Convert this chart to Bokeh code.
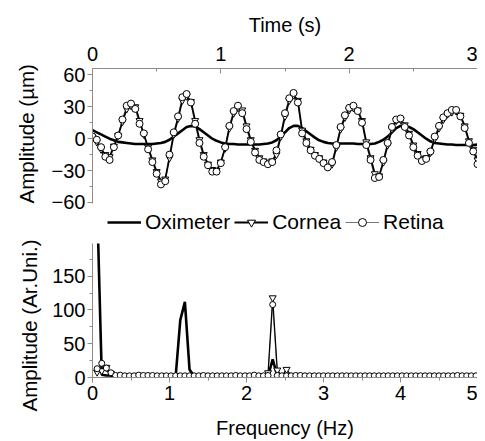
import numpy as np
from bokeh.plotting import figure
from bokeh.models import Range1d, Legend, LegendItem, FixedTicker, Title
from bokeh.layouts import column
from bokeh.embed import file_html
from bokeh.resources import INLINE

FONT = "Liberation Sans"
SAMPLE_RATE = 30.0   # Hz, time-series sampling
FREQ_STEP = 0.06     # Hz, spectrum bin width

# ---------------- time series (µm) ----------------
oximeter_time = [8, 6, 4, 2, 0, -1.5, -3, -3.5, -4, -4.5,
                 -5, -5, -5, -5, -5, -4.5, -4, -3, -1, 2,
                 5, 8, 11, 12, 11.5, 9, 6, 3, 0, -2,
                 -3.5, -4.5, -5, -5, -5.5, -5.5, -5.5, -5.5, -5.5, -5.5,
                 -5, -4.5, -3.5, -1.5, 2, 6, 10, 12, 12, 10,
                 7, 4, 1, -1.5, -3, -4, -4.5, -4.5, -4.5, -4.5,
                 -4.5, -4.5, -5, -5, -5, -5, -4.5, -3, -1, 2,
                 6, 10, 12, 12, 11, 9, 6, 3, 0, -2.5,
                 -4, -4.5, -5, -5.5, -5.5, -6, -6, -6, -6, -6,
                 -5.5]
cornea_time = [1, -3, -10, -15, -17, -7, 3, 16, 28, 31,
               30, 17, 4, -8, -20, -31, -40, -38, -18, 4,
               19, 36, 40, 35, 17, -1, -15, -24, -29, -30,
               -22, -9, 10, 24, 29, 27, 12, -1, -11, -18,
               -21, -23, -21, -15, 2, 21, 36, 41, 36, 8,
               -2, -10, -15, -18, -22, -26, -24, -8, 9, 20,
               27, 29, 27, 17, -3, -18, -33, -35, -22, -6,
               9, 17, 18, 13, 5, -6, -14, -19, -18, -13,
               0, 10, 18, 23, 25, 26, 22, 12, -2, -10,
               -20]
retina_time = [2, -1, -8, -17, -20, -8, 3, 18, 31, 33,
               28, 14, 5, -10, -22, -33, -43, -40, -15, 6,
               21, 39, 42, 34, 14, -4, -17, -25, -31, -31,
               -23, -8, 12, 26, 31, 24, 9, -3, -13, -20,
               -22, -24, -22, -11, 4, 24, 38, 43, 34, 5,
               -4, -11, -16, -19, -23, -27, -22, -6, 11, 22,
               29, 31, 26, 15, -6, -20, -37, -36, -20, -4,
               11, 18, 19, 11, 3, -8, -16, -21, -19, -12,
               2, 12, 20, 24, 27, 27, 21, 10, -4, -12,
               -24]

# ---------------- spectra (Ar.Uni.) ----------------
oximeter_spec = [260, 4, 3, 3, 2, 2, 2, 1.5, 1.5, 1.5,
                 1, 1, 1, 1, 1, 1, 1, 1.5, 85, 112,
                 12, 2, 1, 1, 1, 1, 1, 1, 1, 1,
                 1, 1, 1, 1, 1, 1, 1, 2, 27, 2,
                 1, 1, 1, 1, 1, 1, 1, 1, 1, 1,
                 1, 1, 1, 1, 1, 1, 1, 1, 1, 1,
                 1, 1, 1, 1, 1, 1, 1, 1, 1, 1,
                 1, 1, 1, 1, 1, 1, 1, 1, 1, 1,
                 1, 1, 1]
cornea_spec = [8, 10, 15, 6, 2, 3, 2, 1.5, 2, 2.5,
               2, 1.5, 2, 1.5, 1, 1.5, 1, 1, 1.5, 1,
               1.5, 1, 1.5, 2, 1.5, 1, 1, 1.5, 1, 1.5,
               2, 1.5, 1, 1.5, 2.5, 1.5, 2, 7, 118, 11,
               2, 12, 3, 1.5, 2, 1.5, 1, 1.5, 1, 1,
               1.5, 1, 1, 1.5, 1, 1, 1, 1.5, 1, 1,
               1, 1.5, 1, 1, 1, 1, 1.5, 1, 1, 1,
               1, 1, 1.5, 1, 1, 1, 1, 1.5, 1, 1,
               1, 1, 1]
retina_spec = [13, 21, 14, 7, 3, 3.5, 2.5, 2.5, 2.5, 3.5,
               3, 3, 3, 2.5, 2.5, 2.5, 2.5, 2.5, 2.5, 2.5,
               2.5, 2.5, 2.5, 3, 2.5, 2.5, 2.5, 2.5, 2.5, 2.5,
               3, 2.5, 2.5, 2.5, 3.5, 2.5, 2.5, 3, 108, 3,
               2.5, 2.5, 2.5, 3, 3, 2.5, 2.5, 2.5, 2.5, 2.5,
               2.5, 2.5, 2.5, 2.5, 2.5, 2.5, 2.5, 2.5, 2.5, 2.5,
               2.5, 2.5, 2.5, 2.5, 2.5, 2.5, 2.5, 2.5, 2.5, 2.5,
               2.5, 2.5, 2.5, 2.5, 2.5, 2.5, 2.5, 2.5, 3, 2.5,
               2.5, 2.5, 2.5]

series_names = ["Oximeter", "Cornea", "Retina"]
time_ticks = [0, 1, 2, 3]
time_minor = [0.5, 1.5, 2.5]
amp_ticks = [-60, -30, 0, 30, 60]
amp_minor = [-45, -15, 15, 45]
freq_ticks = [0, 1, 2, 3, 4, 5]
freq_minor = [0.5, 1.5, 2.5, 3.5, 4.5]
spec_ticks = [0, 50, 100, 150]
spec_minor = [25, 75, 125, 175]

t_oxi = np.arange(len(oximeter_time)) / SAMPLE_RATE
t_cor = np.arange(len(cornea_time)) / SAMPLE_RATE
t_ret = np.arange(len(retina_time)) / SAMPLE_RATE
f_oxi = (np.arange(len(oximeter_spec)) + 1) * FREQ_STEP
f_cor = (np.arange(len(cornea_spec)) + 1) * FREQ_STEP
f_ret = (np.arange(len(retina_spec)) + 1) * FREQ_STEP

AXIS_GRAY = "#8c8c8c"
RETINA_GRAY = "#777777"


def style_axis(ax, tick_in, tick_out, minor_in, minor_out):
    ax.axis_line_color = AXIS_GRAY
    ax.major_tick_line_color = AXIS_GRAY
    ax.minor_tick_line_color = AXIS_GRAY
    ax.major_tick_in = tick_in
    ax.major_tick_out = tick_out
    ax.minor_tick_in = minor_in
    ax.minor_tick_out = minor_out
    ax.major_label_text_font = FONT
    ax.major_label_text_font_size = "20px"
    ax.major_label_text_color = "black"
    ax.axis_label_text_font = FONT
    ax.axis_label_text_font_size = "20px"
    ax.axis_label_text_font_style = "normal"
    ax.axis_label_text_color = "black"


def side_title(text, offset, standoff):
    # align="left" on a left panel = text starts at the frame bottom, shifted by offset
    return Title(text=text, align="left", offset=offset, standoff=standoff,
                 text_font=FONT, text_font_size="20.5px", text_font_style="normal",
                 text_color="black")


# ---------------- top figure (frame extended downward to hold the legend) ----------------
p1 = figure(width=477, height=236, x_range=Range1d(0, 3), y_range=Range1d(-92, 66),
            x_axis_location="above", output_backend="svg", toolbar_location=None,
            min_border_left=92, min_border_right=0, min_border_top=68, min_border_bottom=0)
p1.outline_line_color = None
p1.xgrid.visible = False
p1.ygrid.visible = False

xa = p1.xaxis[0]
xa.ticker = FixedTicker(ticks=time_ticks, minor_ticks=time_minor)
xa.axis_label = "Time (s)"
style_axis(xa, 5, 0, 3, 0)
xa.major_label_standoff = 8
xa.axis_label_standoff = 8

ya = p1.yaxis[0]
ya.ticker = FixedTicker(ticks=amp_ticks, minor_ticks=amp_minor)
ya.bounds = (-60.5, 66)
style_axis(ya, 0, 5, 0, 3)
ya.major_label_standoff = 2
p1.add_layout(side_title("Amplitude (µm)", 33, 22), "left")

r_oxi = p1.line(t_oxi, oximeter_time, line_color="black", line_width=2.6)
r_ret_l = p1.line(t_ret, retina_time, line_color=RETINA_GRAY, line_width=1.2)
r_cor_l = p1.line(t_cor, cornea_time, line_color="black", line_width=1.8)
r_cor_m = p1.scatter(t_cor, cornea_time, marker="inverted_triangle", size=7,
                     fill_color="white", line_color="black", line_width=1)
r_ret_m = p1.scatter(t_ret, retina_time, marker="circle", size=7,
                     fill_color="white", line_color="black", line_width=1)

legend = Legend(items=[
    LegendItem(label=series_names[0], renderers=[r_oxi]),
    LegendItem(label=series_names[1], renderers=[r_cor_l, r_cor_m]),
    LegendItem(label=series_names[2], renderers=[r_ret_l, r_ret_m]),
], orientation="horizontal", location=(15, 2))
legend.border_line_color = None
legend.background_fill_alpha = 0
legend.label_text_font = FONT
legend.label_text_font_size = "21px"
legend.label_text_color = "black"
legend.glyph_width = 34
legend.glyph_height = 20
legend.label_standoff = 4
legend.spacing = 4
legend.padding = 0
legend.margin = 0
p1.add_layout(legend)

# ---------------- bottom figure ----------------
p2 = figure(width=477, height=205, x_range=Range1d(0, 5), y_range=Range1d(0, 198.5),
            output_backend="svg", toolbar_location=None,
            min_border_left=92, min_border_right=0, min_border_top=7, min_border_bottom=63)
p2.outline_line_color = None
p2.xgrid.visible = False
p2.ygrid.visible = False

xb = p2.xaxis[0]
xb.ticker = FixedTicker(ticks=freq_ticks, minor_ticks=freq_minor)
xb.axis_label = "Frequency (Hz)"
style_axis(xb, 0, 5, 0, 3)
xb.major_label_standoff = 3
xb.axis_label_standoff = 14

yb = p2.yaxis[0]
yb.ticker = FixedTicker(ticks=spec_ticks, minor_ticks=spec_minor)
style_axis(yb, 0, 5, 0, 3)
yb.major_label_standoff = 2
p2.add_layout(side_title("Amplitude (Ar.Uni.)", -34, 18), "left")

p2.line(f_oxi, oximeter_spec, line_color="black", line_width=2.6)
p2.line(f_ret, retina_spec, line_color=RETINA_GRAY, line_width=1)
p2.line(f_cor, cornea_spec, line_color="black", line_width=1.2)
p2.scatter(f_cor, cornea_spec, marker="inverted_triangle", size=7,
           fill_color="white", line_color="black", line_width=1)
p2.scatter(f_ret, retina_spec, marker="circle", size=6,
           fill_color="white", line_color="black", line_width=1)

layout = column(p1, p2, spacing=0)
open("out.html", "w").write(file_html(layout, INLINE))
